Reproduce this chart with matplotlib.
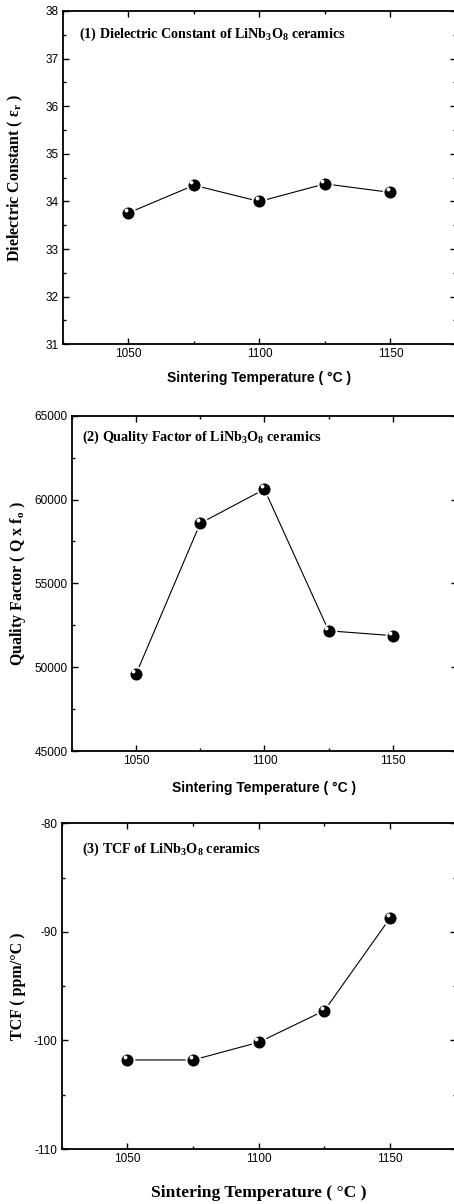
import matplotlib
matplotlib.use("Agg")
import matplotlib.pyplot as plt
import matplotlib.transforms as mtransforms
from matplotlib.ticker import MultipleLocator

plt.rcParams['mathtext.default'] = 'regular'
plt.rcParams['axes.unicode_minus'] = False

temps = [1050, 1075, 1100, 1125, 1150]
dielectric = [33.76, 34.34, 34.00, 34.37, 34.19]
quality = [49570, 58580, 60610, 52170, 51880]
tcf = [-101.8, -101.8, -100.17, -97.25, -88.72]

W, H = 454, 1204
fig = plt.figure(figsize=(W / 100, H / 100), dpi=100)

SANS = 'Liberation Sans'
SERIF = 'Liberation Serif'


def fx(px):
    return px / W


def fy(py):
    return 1 - py / H


panels = [
    dict(rect=(63, 11, 456, 344.3), y=dielectric, ylim=(31, 38), major=1, minor=0.5,
         ylabel='Dielectric Constant ( ε$_r$ )', title='(1) Dielectric Constant of LiNb$_3$O$_8$ ceramics',
         title_pos=(79, 34), ylab_x=15, xlab_y=378, xlab_font=(SANS, 10)),
    dict(rect=(71.7, 415.7, 457.1, 751), y=quality, ylim=(45000, 65000), major=5000, minor=2500,
         ylabel='Quality Factor ( Q x f$_o$ )', title='(2) Quality Factor of LiNb$_3$O$_8$ ceramics',
         title_pos=(82, 437), ylab_x=18, xlab_y=788, xlab_font=(SANS, 10)),
    dict(rect=(61.7, 823.3, 455.8, 1149), y=tcf, ylim=(-110, -80), major=10, minor=5,
         ylabel='TCF ( ppm/°C )', title='(3) TCF of LiNb$_3$O$_8$ ceramics',
         title_pos=(82, 849), ylab_x=18, xlab_y=1193, xlab_font=(SERIF, 12.6)),
]

for p in panels:
    l, t, r, b = p['rect']
    ax = fig.add_axes([fx(l), fy(b), (r - l) / W, (b - t) / H])
    ax.set_xlim(1025, 1175)
    ax.set_ylim(*p['ylim'])
    ax.xaxis.set_major_locator(MultipleLocator(50))
    ax.xaxis.set_minor_locator(MultipleLocator(25))
    ax.yaxis.set_major_locator(MultipleLocator(p['major']))
    ax.yaxis.set_minor_locator(MultipleLocator(p['minor']))
    ax.tick_params(which='both', direction='in', top=True, right=True, width=1.0)
    ax.tick_params(which='major', length=4, labelsize=8.5, pad=3)
    ax.tick_params(which='minor', length=2.5)
    for lab in ax.get_xticklabels() + ax.get_yticklabels():
        lab.set_fontfamily(SANS)
    for s in ax.spines.values():
        s.set_linewidth(1.3)

    ax.plot(temps, p['y'], color='black', lw=0.8, zorder=2)
    ax.plot(temps, p['y'], linestyle='none', marker='o', markersize=10,
            markerfacecolor='black', markeredgecolor='white', markeredgewidth=1.3, zorder=3)
    off = mtransforms.ScaledTranslation(-1.8 / 72, 2.2 / 72, fig.dpi_scale_trans)
    ax.plot(temps, p['y'], linestyle='none', marker='o', markersize=2.8,
            markerfacecolor='white', markeredgecolor='none', zorder=4,
            transform=ax.transData + off)

    fam, size = p['xlab_font']
    ax.set_xlabel('Sintering Temperature ( °C )', fontfamily=fam, fontweight='bold',
                  fontsize=size, va='center')
    ax.xaxis.set_label_coords(fx((l + r) / 2), fy(p['xlab_y']), transform=fig.transFigure)
    ax.set_ylabel(p['ylabel'], fontfamily=SERIF, fontweight='bold', fontsize=11.5, va='center')
    ax.yaxis.set_label_coords(fx(p['ylab_x']), fy((t + b) / 2), transform=fig.transFigure)

    fig.text(fx(p['title_pos'][0]), fy(p['title_pos'][1]), p['title'], fontfamily=SERIF,
             fontweight='bold', fontsize=10.2, ha='left', va='center')

fig.savefig('out.png', dpi=100)
